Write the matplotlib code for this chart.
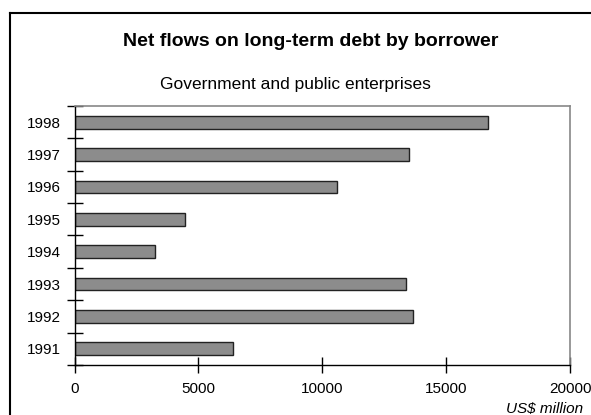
import matplotlib
matplotlib.use("Agg")
import matplotlib.pyplot as plt
from matplotlib.lines import Line2D

# data
years = ['1991', '1992', '1993', '1994', '1995', '1996', '1997', '1998']
flows = [6400, 13650, 13400, 3250, 4450, 10600, 13500, 16700]
x_ticks = [0, 5000, 10000, 15000, 20000]

plt.rcParams['font.family'] = ['Liberation Sans', 'DejaVu Sans']

W, H = 591, 415
fig = plt.figure(figsize=(W / 100, H / 100), dpi=100)

# axes placed in pixel terms
left, right, top, bottom = 74.5, 570, 106, 365
ax = fig.add_axes([left / W, 1 - bottom / H, (right - left) / W, (bottom - top) / H])

ypos = list(range(len(years)))
ax.barh(ypos, flows, height=0.39, color='#8c8c8c', edgecolor='#222222', linewidth=1)

ax.set_xlim(0, 20000)
ax.set_ylim(-0.5, len(years) - 0.5)
ax.set_xticks(x_ticks)
ax.set_xticklabels([str(v) for v in x_ticks], fontsize=11)
ax.set_yticks(ypos)
ax.set_yticklabels(years, fontsize=11)
ax.set_yticks([i - 0.5 for i in range(len(years) + 1)], minor=True)

ax.tick_params(axis='y', which='major', length=0, pad=10)
ax.tick_params(axis='y', which='minor', direction='inout', length=11, width=1, color='black')
ax.tick_params(axis='x', which='major', direction='inout', length=11, width=1, pad=7)

for s in ['left', 'bottom']:
    ax.spines[s].set_color('black')
    ax.spines[s].set_linewidth(1)
for s in ['top', 'right']:
    ax.spines[s].set_color('#888888')
    ax.spines[s].set_linewidth(1.2)

# outer chart frame
fig.add_artist(Line2D([10 / W, 10 / W], [0, 1 - 13 / H], transform=fig.transFigure, color='black', linewidth=1.5))
fig.add_artist(Line2D([10 / W, 1], [1 - 13 / H, 1 - 13 / H], transform=fig.transFigure, color='black', linewidth=1.5))

fig.text(311 / W, 1 - 46.5 / H, 'Net flows on long-term debt by borrower', ha='center', va='baseline',
         fontsize=14, fontweight='bold')
fig.text(295 / W, 1 - 88.5 / H, 'Government and public enterprises', ha='center', va='baseline', fontsize=12.5)
fig.text(583 / W, 1 - 413 / H, 'US$ million', ha='right', va='baseline', fontsize=11, style='italic')

fig.savefig('out.png', dpi=100)
